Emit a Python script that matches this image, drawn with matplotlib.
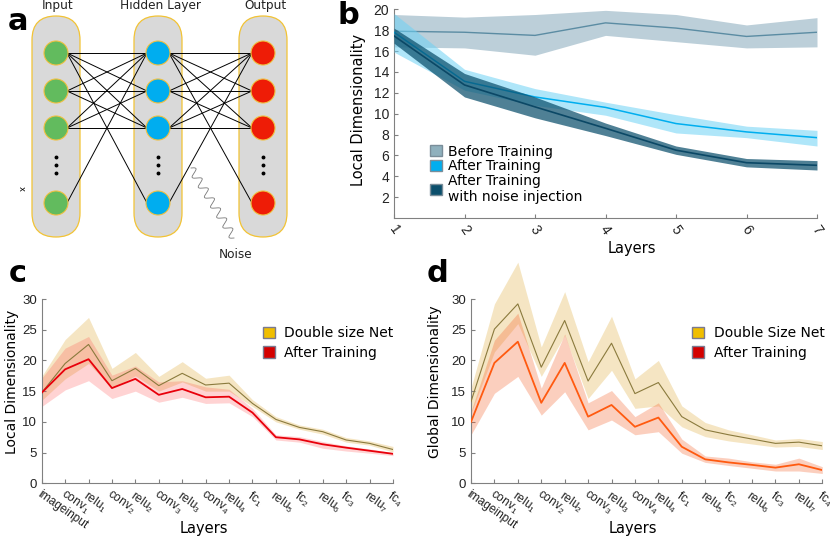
import numpy as np
import matplotlib

matplotlib.use("Agg")
import matplotlib.pyplot as plt
from matplotlib.patches import Circle, FancyBboxPatch, Patch
from matplotlib.transforms import ScaledTranslation

plt.rcParams.update(
    {
        "font.family": "DejaVu Sans",
        "mathtext.fontset": "custom",
        "mathtext.rm": "Liberation Sans",
        "mathtext.it": "Liberation Sans:italic",
        "axes.edgecolor": "#808080",
        "xtick.color": "#808080",
        "ytick.color": "#808080",
        "xtick.labelcolor": "#222222",
        "ytick.labelcolor": "#222222",
        "xtick.direction": "in",
        "ytick.direction": "in",
    }
)

W, H = 830, 536

# ---------------- panel b data ----------------
b_layers = [1, 2, 3, 4, 5, 6, 7]
before_mean = [17.9, 17.8, 17.5, 18.7, 18.2, 17.4, 17.8]
before_hi = [19.5, 19.25, 19.5, 19.9, 19.5, 18.5, 19.2]
before_lo = [16.4, 16.3, 15.6, 17.5, 16.9, 16.3, 16.4]
after_mean = [17.8, 13.1, 11.6, 10.6, 9.05, 8.25, 7.7]
after_hi = [19.6, 14.25, 12.4, 11.1, 9.9, 8.8, 8.4]
after_lo = [15.9, 12.25, 10.8, 9.85, 8.15, 7.7, 6.9]
noise_mean = [17.45, 12.75, 10.65, 8.6, 6.5, 5.3, 5.05]
noise_hi = [18.2, 13.85, 11.6, 9.1, 6.9, 5.7, 5.5]
noise_lo = [16.75, 11.6, 9.6, 7.9, 6.1, 4.9, 4.6]

# ---------------- panels c, d data ----------------
cnn_layers = [
    "imageinput", r"conv$_{1}$", r"relu$_{1}$", r"conv$_{2}$", r"relu$_{2}$",
    r"conv$_{3}$", r"relu$_{3}$", r"conv$_{4}$", r"relu$_{4}$", r"fc$_{1}$",
    r"relu$_{5}$", r"fc$_{2}$", r"relu$_{6}$", r"fc$_{3}$", r"relu$_{7}$", r"fc$_{4}$",
]
c_double_mean = [14.75, 19.5, 22.6, 16.7, 18.7, 15.9, 17.9, 16.0, 16.3, 13.0, 10.4, 9.1, 8.4, 7.05, 6.5, 5.5]
c_double_hi = [17.4, 23.4, 27.0, 18.7, 21.3, 17.4, 19.8, 17.1, 17.6, 13.6, 10.85, 9.5, 8.8, 7.45, 6.9, 6.0]
c_double_lo = [13.5, 17.0, 19.5, 15.5, 17.5, 15.0, 16.5, 15.0, 15.0, 12.5, 10.0, 8.8, 8.0, 6.7, 6.2, 5.1]
c_after_mean = [14.75, 18.55, 20.2, 15.5, 17.0, 14.4, 15.35, 14.0, 14.1, 11.5, 7.5, 7.15, 6.35, 5.8, 5.3, 4.8]
c_after_hi = [17.1, 22.0, 23.9, 17.6, 19.1, 16.5, 16.7, 15.7, 15.3, 12.2, 7.9, 7.6, 6.8, 6.1, 5.6, 5.0]
c_after_lo = [12.5, 15.2, 16.7, 13.8, 15.0, 13.2, 14.0, 13.0, 13.1, 10.85, 7.05, 6.7, 5.7, 5.25, 4.9, 4.5]

d_double_mean = [13.3, 25.1, 29.2, 18.9, 26.5, 16.65, 22.8, 14.6, 16.4, 10.85, 8.7, 7.9, 7.2, 6.5, 6.7, 6.1]
d_double_hi = [15.5, 29.2, 36.0, 22.2, 31.2, 19.8, 27.2, 17.0, 20.0, 12.6, 9.9, 8.7, 7.9, 7.05, 7.3, 6.8]
d_double_lo = [11.4, 21.4, 26.0, 17.4, 24.1, 13.8, 18.4, 12.2, 12.6, 9.2, 7.6, 6.9, 6.4, 5.9, 6.0, 5.5]
d_after_mean = [10.0, 19.6, 23.05, 13.1, 19.6, 10.85, 12.75, 9.2, 10.7, 5.95, 3.9, 3.4, 3.0, 2.55, 3.1, 2.15]
d_after_hi = [11.7, 23.3, 27.7, 15.5, 24.3, 13.1, 15.1, 10.85, 13.1, 7.2, 4.45, 4.1, 3.5, 3.1, 4.1, 2.7]
d_after_lo = [7.9, 14.65, 17.4, 11.1, 14.9, 8.7, 10.3, 7.9, 8.4, 4.9, 3.4, 2.9, 2.45, 2.0, 2.0, 1.6]

# ---------------- panel a layout ----------------
layer_names = ["Input", "Hidden Layer", "Output"]
layer_colors = ["#62bb5e", "#00adef", "#ee1c06"]
col_x = [56, 158, 263]
node_y = [53, 91, 128, 203]
NODE_R = 12
PILL_W, PILL_TOP, PILL_BOT = 48, 16, 237


def px_axes(fig, left, top, right, bottom):
    return fig.add_axes([left / W, 1 - bottom / H, (right - left) / W, (bottom - top) / H])


def style_axes(ax):
    for side in ("top", "right"):
        ax.spines[side].set_visible(False)
    ax.spines["left"].set_linewidth(0.8)
    ax.spines["bottom"].set_linewidth(0.8)
    ax.tick_params(length=3, width=0.8)
    for lab in ax.get_yticklabels():
        lab.set_fontfamily("Liberation Sans")


fig = plt.figure(figsize=(W / 100, H / 100), dpi=100)

# ---------------- a: network sketch ----------------
axa = px_axes(fig, 0, 0, 300, 270)
axa.set_xlim(0, 300)
axa.set_ylim(270, 0)
axa.axis("off")
for cx, name, color in zip(col_x, layer_names, layer_colors):
    axa.add_patch(
        FancyBboxPatch(
            (cx - PILL_W / 2, PILL_TOP), PILL_W, PILL_BOT - PILL_TOP,
            boxstyle=f"round,pad=0,rounding_size={PILL_W / 2}",
            facecolor="#d9d9d9", edgecolor="#f2c335", lw=0.9, zorder=1,
        )
    )
    axa.text(cx + 2, 5, name, ha="center", va="center", fontsize=8.7, color="#222222")
    for ny in node_y:
        axa.add_patch(Circle((cx, ny), NODE_R, facecolor=color, edgecolor="#f0c040", lw=0.8, zorder=4))
    for dy in (157, 165, 173):
        axa.plot(cx, dy, "o", ms=1.8, color="black", zorder=4)

pairs = [(i, j) for i in range(3) for j in range(3)] + [(0, 3), (3, 0)]
for k in range(2):
    x0, x1 = col_x[k], col_x[k + 1]
    for i, j in pairs:
        axa.plot([x0 + 11, x1 - 11], [node_y[i], node_y[j]], color="black", lw=0.7, zorder=3)

t = np.linspace(0, 1, 400)
sx, sy = 191 + 43 * t, 168 + 70 * t
axa.plot(sx + 4 * np.sin(2 * np.pi * 7 * t) * 0.85, sy - 4 * np.sin(2 * np.pi * 7 * t) * 0.5,
         color="#777777", lw=0.6, zorder=2)
axa.text(236, 255, "Noise", ha="center", va="center", fontsize=8.7, color="#222222")
axa.text(21, 189, "x", ha="center", va="center", fontsize=6, rotation=-90)

# ---------------- b ----------------
axb = px_axes(fig, 394, 9.3, 817, 218)
axb.fill_between(b_layers, before_lo, before_hi, color="#bccfd9", lw=0, zorder=1)
axb.plot(b_layers, before_mean, color="#5b8ca3", lw=1, zorder=2)
axb.fill_between(b_layers, after_lo, after_hi, color="#6dd2f5", alpha=0.55, lw=0, zorder=3)
axb.plot(b_layers, after_mean, color="#00aeef", lw=1.1, zorder=4)
axb.fill_between(b_layers, noise_lo, noise_hi, color="#0b4f6c", alpha=0.72, lw=0, zorder=5)
axb.plot(b_layers, noise_mean, color="#0b4866", lw=1.2, zorder=6)
axb.set_xlim(1, 7)
axb.set_ylim(0, 20)
axb.set_yticks(range(2, 21, 2))
axb.set_xticks(b_layers)
axb.set_xticklabels([str(v) for v in b_layers], rotation=-55, ha="center", fontsize=10, family="Liberation Sans")
axb.tick_params(axis="y", labelsize=10)
style_axes(axb)
axb.set_ylabel("Local Dimensionality", fontsize=10.5, va="center")
axb.yaxis.set_label_coords(-0.085, 0.517)
axb.set_xlabel("Layers", fontsize=10.5, va="center")
axb.xaxis.set_label_coords(0.563, -0.144)
hb = [
    Patch(facecolor="#8fb0bd", edgecolor="#7a8d99"),
    Patch(facecolor="#00aeef", edgecolor="#7a8d99"),
    Patch(facecolor="#0b4f6c", edgecolor="#7a8d99"),
]
axb.legend(hb, ["Before Training", "After Training", "After Training\nwith noise injection"],
           loc="upper left", bbox_to_anchor=(0.068, 0.385), frameon=False, fontsize=10,
           handlelength=0.85, handleheight=0.85, handletextpad=0.5, labelspacing=0.05, borderpad=0)

# ---------------- c, d ----------------
xs = np.arange(len(cnn_layers))


def cnn_panel(ax, dbl, dhi, dlo, am, ahi, alo, after_line, after_band, band_alpha, ylabel, leg1, ylab_x, clip):
    ax.fill_between(xs, dlo, dhi, color="#e6c069", alpha=0.4, lw=0, zorder=1, clip_on=clip)
    ax.fill_between(xs, alo, ahi, color=after_band, alpha=band_alpha, lw=0, zorder=2)
    ax.plot(xs, dbl, color="#8a7a3d", lw=0.8, zorder=3)
    ax.plot(xs, am, color=after_line, lw=1.3, zorder=4)
    ax.set_xlim(0, len(cnn_layers) - 1)
    ax.set_ylim(0, 30)
    ax.set_yticks(range(0, 31, 5))
    ax.set_xticks(xs)
    off = ScaledTranslation(-6 / 100, -2 / 100, fig.dpi_scale_trans)
    ax.set_xticklabels(cnn_layers, rotation=-35, ha="left", va="top", rotation_mode="anchor",
                       fontsize=8.6, family="Liberation Sans")
    for lab in ax.get_xticklabels():
        lab.set_transform(lab.get_transform() + off)
    ax.tick_params(axis="y", labelsize=9.5)
    style_axes(ax)
    ax.set_ylabel(ylabel, fontsize=10, va="center")
    ax.yaxis.set_label_coords(ylab_x, 0.55)
    ax.set_xlabel("Layers", fontsize=10.5, va="center")
    ax.xaxis.set_label_coords(0.462, -0.243)
    hs = [Patch(facecolor="#f0be00", edgecolor="#7a7a90"), Patch(facecolor="#d40000", edgecolor="#7a7a90")]
    ax.legend(hs, [leg1, "After Training"], loc="upper left", bbox_to_anchor=(0.61, 0.89),
              frameon=False, fontsize=10, handlelength=0.85, handleheight=0.85,
              handletextpad=0.7, labelspacing=0.4, borderpad=0)


axc = px_axes(fig, 41.7, 299, 393, 483.3)
cnn_panel(axc, c_double_mean, c_double_hi, c_double_lo, c_after_mean, c_after_hi, c_after_lo,
          "#e8000b", "#ff3a3a", 0.22, "Local Dimensionality", "Double size Net", -0.085, True)
axd = px_axes(fig, 471, 299, 822.3, 483.3)
cnn_panel(axd, d_double_mean, d_double_hi, d_double_lo, d_after_mean, d_after_hi, d_after_lo,
          "#ff5a10", "#f5602a", 0.3, "Global Dimensionality", "Double Size Net", -0.102, False)

# panel letters
for letter, x, y in (("a", 18, 21), ("b", 348, 16), ("c", 18, 274), ("d", 437, 274)):
    fig.text(x / W, 1 - y / H, letter, fontsize=22, fontweight="bold", ha="center", va="center")

fig.savefig("out.png", dpi=100)
